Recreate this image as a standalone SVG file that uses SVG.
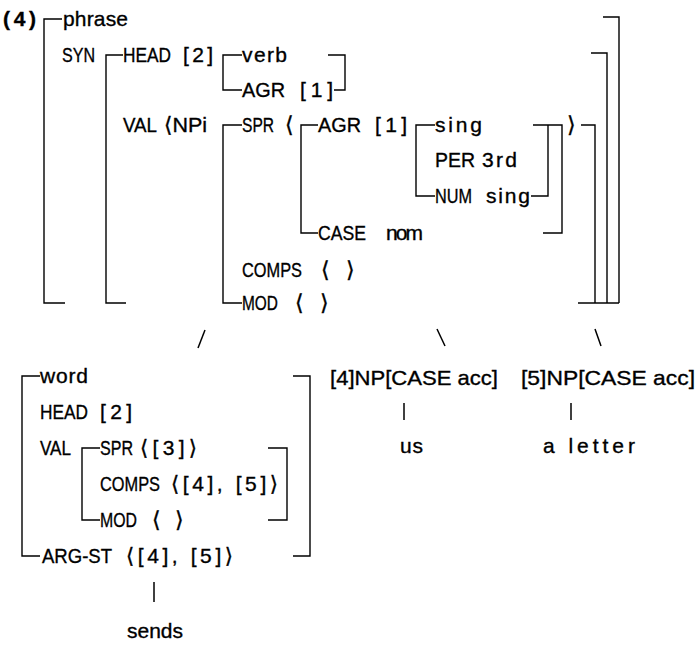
<svg xmlns="http://www.w3.org/2000/svg" width="699" height="652" viewBox="0 0 699 652">
<style>
text{font-family:"Liberation Sans","DejaVu Sans",sans-serif;font-size:21px;fill:#000;stroke:#000;stroke-width:0.35}
.b{font-weight:bold}
.a{font-family:"DejaVu Sans",sans-serif;font-size:22px}
.br{fill:none;stroke:#000;stroke-width:1.4}
.ln{fill:none;stroke:#000;stroke-width:1.5}
</style>
<rect width="699" height="652" fill="#fff"/>
<g id="phrase-avm">
<text x="3" y="26" class="b" textLength="33" lengthAdjust="spacing">(4)</text>
<text x="63" y="26" textLength="65" lengthAdjust="spacing">phrase</text>
<text x="62" y="62" textLength="33" lengthAdjust="spacingAndGlyphs">SYN</text>
<text x="123" y="62" textLength="48" lengthAdjust="spacingAndGlyphs">HEAD</text>
<text x="183" y="62" textLength="30" lengthAdjust="spacing">[2]</text>
<text x="242" y="62" textLength="45" lengthAdjust="spacing">verb</text>
<text x="242" y="97" textLength="43" lengthAdjust="spacingAndGlyphs">AGR</text>
<text x="300" y="97" textLength="33" lengthAdjust="spacing">[1]</text>
<text x="123" y="132" textLength="34" lengthAdjust="spacingAndGlyphs">VAL</text>
<text x="164" y="132" textLength="43" lengthAdjust="spacingAndGlyphs">⟨NPi</text>
<text x="242" y="132" textLength="32" lengthAdjust="spacingAndGlyphs">SPR</text>
<text x="285" y="132" class="a">⟨</text>
<text x="318" y="132" textLength="43" lengthAdjust="spacingAndGlyphs">AGR</text>
<text x="375" y="132" textLength="32" lengthAdjust="spacing">[1]</text>
<text x="435" y="132" textLength="47" lengthAdjust="spacing">sing</text>
<text x="567" y="132" class="a">⟩</text>
<text x="435" y="167" textLength="40" lengthAdjust="spacingAndGlyphs">PER</text>
<text x="482" y="167" textLength="35" lengthAdjust="spacing">3rd</text>
<text x="435" y="203" textLength="37" lengthAdjust="spacingAndGlyphs">NUM</text>
<text x="486" y="203" textLength="44" lengthAdjust="spacing">sing</text>
<text x="318" y="240" textLength="48" lengthAdjust="spacingAndGlyphs">CASE</text>
<text x="386" y="240" textLength="37" lengthAdjust="spacing">nom</text>
<text x="242" y="277" textLength="60" lengthAdjust="spacingAndGlyphs">COMPS</text>
<text x="321" y="277" class="a">⟨</text>
<text x="346" y="277" class="a">⟩</text>
<text x="242" y="310" textLength="36" lengthAdjust="spacingAndGlyphs">MOD</text>
<text x="295" y="310" class="a">⟨</text>
<text x="320" y="310" class="a">⟩</text>
<path class="br" d="M62 19H44V303H65"/>
<path class="br" d="M603 17H619V303"/>
<path class="br" d="M123 55H106V303H126"/>
<path class="br" d="M591 53H607V303"/>
<path class="br" d="M242 55H223V90H242"/>
<path class="br" d="M328 55H345V90H334"/>
<path class="br" d="M242 125H223V303H242"/>
<path class="br" d="M318 125H301V233H318"/>
<path class="br" d="M435 125H416V196H435"/>
<path class="br" d="M533 125H562V233H543"/>
<path class="br" d="M548 125V196H531"/>
<path class="br" d="M581 125H595V303"/>
<path class="br" d="M578 303H619"/>
</g>
<g id="word-avm">
<text x="40" y="383" textLength="48" lengthAdjust="spacing">word</text>
<text x="40" y="419" textLength="48" lengthAdjust="spacingAndGlyphs">HEAD</text>
<text x="100" y="419" textLength="32" lengthAdjust="spacing">[2]</text>
<text x="40" y="455" textLength="31" lengthAdjust="spacingAndGlyphs">VAL</text>
<text x="100" y="455" textLength="33" lengthAdjust="spacingAndGlyphs">SPR</text>
<text x="140" y="455" textLength="57" lengthAdjust="spacing">⟨[3]⟩</text>
<text x="100" y="491" textLength="60" lengthAdjust="spacingAndGlyphs">COMPS</text>
<text x="171" y="491" textLength="107" lengthAdjust="spacing">⟨[4], [5]⟩</text>
<text x="100" y="527" textLength="37" lengthAdjust="spacingAndGlyphs">MOD</text>
<text x="152" y="527" class="a">⟨</text>
<text x="175" y="527" class="a">⟩</text>
<text x="42" y="563" textLength="70" lengthAdjust="spacingAndGlyphs">ARG-ST</text>
<text x="126" y="563" textLength="107" lengthAdjust="spacing">⟨[4], [5]⟩</text>
<path class="br" d="M40 376H22V556H40"/>
<path class="br" d="M293 376H310V556H293"/>
<path class="br" d="M100 448H82V520H100"/>
<path class="br" d="M268 448H287V520H268"/>
</g>
<g id="np4">
<text x="330" y="385" textLength="168" lengthAdjust="spacingAndGlyphs">[4]NP[CASE acc]</text>
</g>
<g id="np5">
<text x="521" y="385" textLength="174" lengthAdjust="spacingAndGlyphs">[5]NP[CASE acc]</text>
</g>
<g id="leaf-us">
<text x="400" y="453" textLength="23" lengthAdjust="spacing">us</text>
</g>
<g id="leaf-letter">
<text x="543" y="453" textLength="92" lengthAdjust="spacing">a letter</text>
</g>
<g id="leaf-sends">
<text x="127" y="638" textLength="56" lengthAdjust="spacing">sends</text>
</g>
<g id="connectors">
<path class="ln" d="M205 330L198 348"/>
<path class="ln" d="M437 329L445 346"/>
<path class="ln" d="M595 329L601 346"/>
<path class="ln" d="M404 403V420"/>
<path class="ln" d="M571 403V420"/>
<path class="ln" d="M154 582V602"/>
</g>
</svg>
